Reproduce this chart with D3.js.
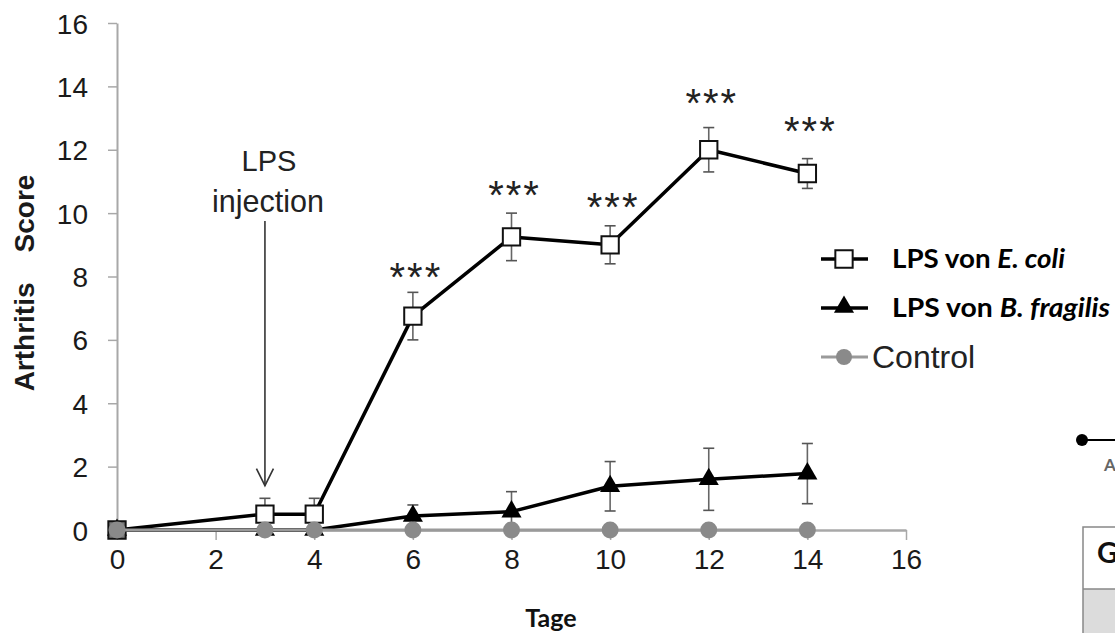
<!DOCTYPE html>
<html><head><meta charset="utf-8">
<script src="https://cdn.jsdelivr.net/npm/d3@7"></script>
<style>
html,body{margin:0;padding:0;background:#fff;}
svg{display:block;}
</style></head>
<body>
<svg id="c" width="1115" height="633"></svg>
<script>
// ---- data ----
const days = [0, 3, 4, 6, 8, 10, 12, 14];
const ecoli = [0, 0.5, 0.5, 6.75, 9.25, 9.0, 12.0, 11.25];
const ecoliErr = [0, 0.5, 0.5, 0.75, 0.75, 0.6, 0.7, 0.47];
const bfrag = [0, 0, 0, 0.44, 0.58, 1.38, 1.6, 1.78];
const bfragErr = [0, 0, 0, 0.35, 0.63, 0.78, 0.98, 0.95];
const control = [0, 0, 0, 0, 0, 0, 0, 0];
const starDays = [6, 8, 10, 12, 14];
const starLevels = [8.24, 10.83, 10.43, 13.73, 12.85];
const xTicks = [0, 2, 4, 6, 8, 10, 12, 14, 16];
const yTicks = [0, 2, 4, 6, 8, 10, 12, 14, 16];
const legendNames = [["LPS von ", "E. coli"], ["LPS von ", "B. fragilis"], ["", "Control"]];
const injectionDay = 3;
const arrowFrom = 9.75, arrowTo = 1.4;

const svg = d3.select("#c");
const x = d3.scaleLinear().domain([0, 16]).range([117, 906]);
const y = d3.scaleLinear().domain([0, 16]).range([530, 23]);
const axisCol = "#a8a8a8";

// y axis
const ya = svg.append("g").attr("transform", `translate(${x(0)},0)`)
  .call(d3.axisLeft(y).tickValues(yTicks).tickSize(9).tickPadding(20).tickSizeOuter(0));
ya.select(".domain").attr("stroke", axisCol).attr("stroke-width", 2);
ya.selectAll(".tick line").attr("stroke", axisCol).attr("stroke-width", 1.5);
ya.selectAll(".tick text").attr("font-family", "Liberation Sans, Arial, sans-serif")
  .attr("font-size", 28).attr("fill", "#1a1a1a").attr("dy", "0.36em");

// x axis
const xa = svg.append("g").attr("transform", `translate(0,${y(0)})`)
  .call(d3.axisBottom(x).tickValues(xTicks).tickSize(10).tickPadding(9).tickSizeOuter(0));
xa.select(".domain").attr("stroke", axisCol).attr("stroke-width", 2.5);
xa.selectAll(".tick line").attr("stroke", axisCol).attr("stroke-width", 1.5);
xa.selectAll(".tick text").attr("font-family", "Liberation Sans, Arial, sans-serif")
  .attr("font-size", 28).attr("fill", "#1a1a1a");

// axis titles
const yt = svg.append("text").attr("transform", "translate(34,283) rotate(-90)")
  .attr("text-anchor", "middle").attr("font-family", "Liberation Sans, Arial, sans-serif")
  .attr("font-weight", "bold").attr("font-size", 28).attr("fill", "#1a1a1a");
yt.append("tspan").text("Arthritis");
yt.append("tspan").attr("dx", 30).text("Score");

svg.append("text").attr("x", 551).attr("y", 627).attr("text-anchor", "middle")
  .attr("font-family", "Lato, sans-serif").attr("font-weight", "bold")
  .attr("font-size", 25).attr("fill", "#111").text("Tage");

// LPS injection annotation
svg.append("text").attr("x", x(injectionDay) + 4).attr("y", 171).attr("text-anchor", "middle")
  .attr("font-family", "Liberation Sans, Arial, sans-serif").attr("font-size", 29).attr("fill", "#222").text("LPS");
svg.append("text").attr("x", x(injectionDay) + 3).attr("y", 212).attr("text-anchor", "middle")
  .attr("font-family", "Liberation Sans, Arial, sans-serif").attr("font-size", 30.5).attr("fill", "#222").text("injection");
const ax = x(injectionDay);
svg.append("line").attr("x1", ax).attr("x2", ax).attr("y1", y(arrowFrom)).attr("y2", y(arrowTo))
  .attr("stroke", "#333").attr("stroke-width", 1.6);
svg.append("path").attr("d", `M${ax - 8.5},${y(arrowTo) - 17} L${ax},${y(arrowTo)} L${ax + 8.5},${y(arrowTo) - 17}`)
  .attr("fill", "none").attr("stroke", "#333").attr("stroke-width", 1.6);

const line = d3.line().x(d => x(d[0])).y(d => y(d[1]));

// error bars
function errBars(vals, errs, startIdx) {
  const g = svg.append("g");
  days.forEach((d, i) => {
    if (i < startIdx) return;
    const top = y(vals[i] + errs[i]), bot = y(vals[i] - errs[i]);
    g.append("line").attr("x1", x(d)).attr("x2", x(d)).attr("y1", top).attr("y2", bot)
      .attr("stroke", "#666").attr("stroke-width", 1.6);
    [top, bot].forEach(yy => g.append("line").attr("x1", x(d) - 5.5).attr("x2", x(d) + 5.5)
      .attr("y1", yy).attr("y2", yy).attr("stroke", "#555").attr("stroke-width", 1.6));
  });
}
errBars(ecoli, ecoliErr, 1);
errBars(bfrag, bfragErr, 3);

// E. coli line
svg.append("path").attr("d", line(days.map((d, i) => [d, ecoli[i]])))
  .attr("fill", "none").attr("stroke", "#000").attr("stroke-width", 3.5).attr("stroke-linejoin", "round");
// B. fragilis line
svg.append("path").attr("d", line(days.map((d, i) => [d, bfrag[i]])))
  .attr("fill", "none").attr("stroke", "#000").attr("stroke-width", 3.5).attr("stroke-linejoin", "round");

const sq = d3.symbol().type(d3.symbolSquare).size(300);
const tri = d3.symbol().type(d3.symbolTriangle).size(175);

// markers B. fragilis
svg.append("g").selectAll("path").data(days).join("path")
  .attr("d", tri).attr("transform", (d, i) => `translate(${x(d)},${y(bfrag[i])})`)
  .attr("fill", "#000");
// markers E. coli
svg.append("g").selectAll("path").data(days).join("path")
  .attr("d", sq).attr("transform", (d, i) => `translate(${x(d)},${y(ecoli[i])})`)
  .attr("fill", (d, i) => i === 0 ? "#7a7a7a" : "#fff").attr("stroke", "#111").attr("stroke-width", 2);

// Control
svg.append("path").attr("d", line(days.map((d, i) => [d, control[i]])))
  .attr("fill", "none").attr("stroke", "#9a9a9a").attr("stroke-width", 3);
svg.append("g").selectAll("circle").data(days).join("circle")
  .attr("cx", d => x(d)).attr("cy", (d, i) => y(control[i])).attr("r", 8.5).attr("fill", "#8a8a8a");

// significance stars
svg.append("g").selectAll("text").data(starDays).join("text")
  .attr("x", d => x(d) + 3).attr("y", (d, i) => y(starLevels[i]) + 22)
  .attr("text-anchor", "middle").attr("font-family", "Liberation Sans, Arial, sans-serif")
  .attr("font-size", 40).attr("letter-spacing", 2).attr("fill", "#222").text("***");

// legend
const lg = svg.append("g");
const legY = [259, 308, 357];
legY.forEach((ly, i) => {
  lg.append("line").attr("x1", 821).attr("x2", 868).attr("y1", ly).attr("y2", ly)
    .attr("stroke", i === 2 ? "#9a9a9a" : "#000").attr("stroke-width", i === 2 ? 3 : 3.5);
});
lg.append("path").attr("d", sq).attr("transform", `translate(844,${legY[0]})`)
  .attr("fill", "#fff").attr("stroke", "#111").attr("stroke-width", 2);
lg.append("path").attr("d", tri).attr("transform", `translate(844,${legY[1] - 1})`).attr("fill", "#000");
lg.append("circle").attr("cx", 844).attr("cy", legY[2]).attr("r", 8).attr("fill", "#8a8a8a");

const legLen = [173, 218];
[0, 1].forEach(i => {
  const t = lg.append("text").attr("x", 892).attr("y", legY[i] + 9)
    .attr("font-family", "Lato, sans-serif").attr("font-weight", "bold").attr("font-size", 27).attr("fill", "#000")
    .attr("textLength", legLen[i]).attr("lengthAdjust", "spacingAndGlyphs");
  t.append("tspan").text(legendNames[i][0]);
  t.append("tspan").attr("font-style", "italic").text(legendNames[i][1]);
});
lg.append("text").attr("x", 872).attr("y", legY[2] + 11)
  .attr("font-family", "Liberation Sans, Arial, sans-serif").attr("font-size", 32).attr("fill", "#222").text(legendNames[2][1]);

// fragment of neighbouring panel (bottom right)
const fr = svg.append("g");
fr.append("circle").attr("cx", 1082).attr("cy", 440).attr("r", 6).attr("fill", "#000");
fr.append("line").attr("x1", 1082).attr("x2", 1115).attr("y1", 440).attr("y2", 440).attr("stroke", "#000").attr("stroke-width", 2);
fr.append("text").attr("x", 1104).attr("y", 471).attr("font-family", "Lato, sans-serif").attr("font-weight", "bold")
  .attr("font-size", 17).attr("fill", "#666").text("A");
fr.append("rect").attr("x", 1083).attr("y", 589).attr("width", 40).attr("height", 50).attr("fill", "#dcdcdc");
fr.append("path").attr("d", "M1083,640 V527 H1120 M1083,589 H1120").attr("fill", "none").attr("stroke", "#888").attr("stroke-width", 1.5);
fr.append("text").attr("x", 1097).attr("y", 563).attr("font-family", "Lato, sans-serif").attr("font-weight", "bold")
  .attr("font-size", 29).attr("fill", "#111").text("G");
</script>
</body></html>
